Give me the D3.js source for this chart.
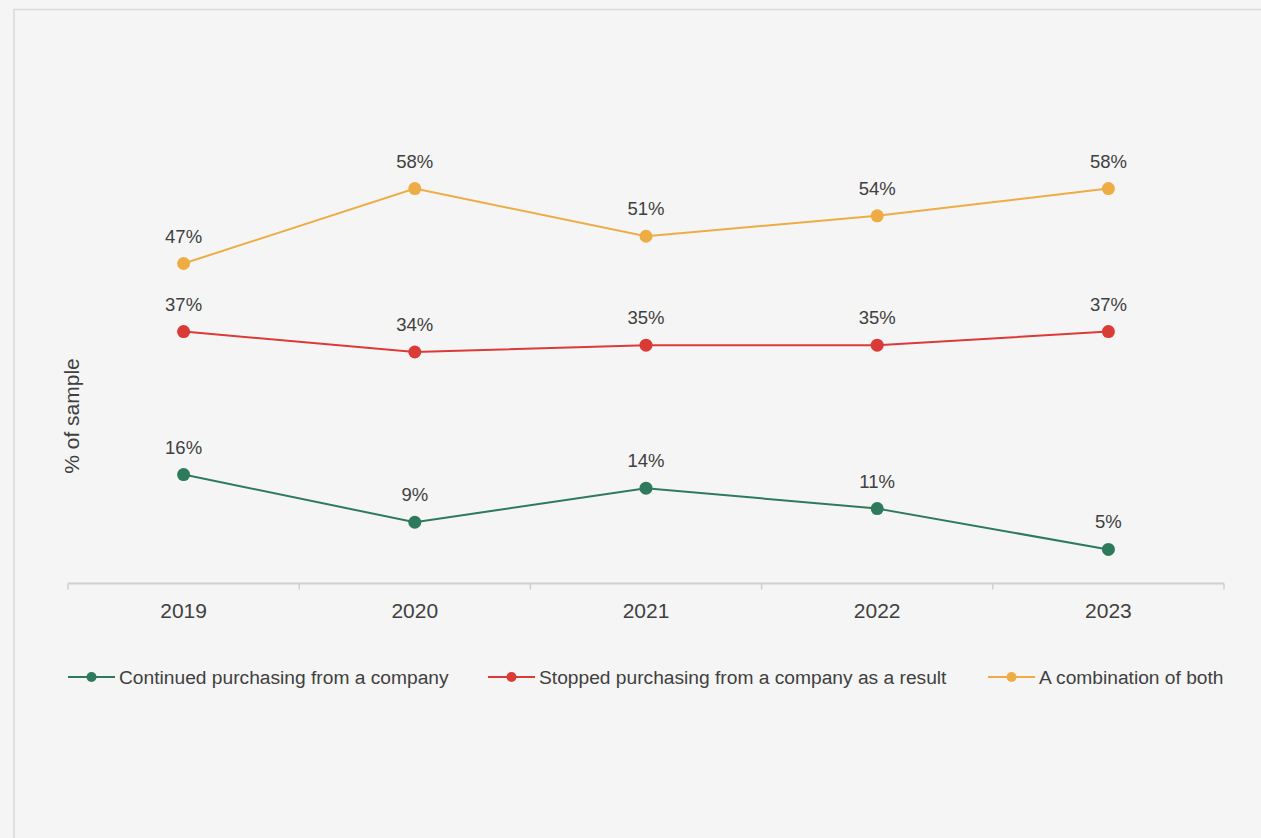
<!DOCTYPE html>
<html>
<head>
<meta charset="utf-8">
<script src="https://cdn.jsdelivr.net/npm/d3@7"></script>
<style>
  html, body { margin: 0; padding: 0; background: #f5f5f5; }
  svg { display: block; font-family: "Liberation Sans", Arial, Helvetica, sans-serif; }
</style>
</head>
<body>
<svg id="chart" width="1261" height="838"></svg>
<script>
// Survey years on the x axis
const years = ["2019", "2020", "2021", "2022", "2023"];

// Share of respondents (%) per outcome
const continuedValues = [16, 9, 14, 11, 5];
const stoppedValues = [37, 34, 35, 35, 37];
const combinationValues = [47, 58, 51, 54, 58];

const seriesNames = [
  "Continued purchasing from a company",
  "Stopped purchasing from a company as a result",
  "A combination of both"
];
const seriesColors = ["#2e7a5c", "#db3b36", "#eeac45"];
const yAxisTitle = "% of sample";

const series = [continuedValues, stoppedValues, combinationValues].map((vals, i) => ({
  name: seriesNames[i],
  color: seriesColors[i],
  points: vals.map((v, j) => ({ year: years[j], value: v }))
}));

const svg = d3.select("#chart");
const W = 1261, H = 838;
const textColor = "#404040";

svg.append("rect").attr("width", W).attr("height", H).attr("fill", "#f5f5f5");

// Panel frame (top and left edges)
svg.append("path")
  .attr("d", `M14,${H} V9.5 H${W}`)
  .attr("fill", "none")
  .attr("stroke", "#d9d9d9")
  .attr("stroke-width", 1.5);

const plot = { left: 68, right: 1224, bottom: 583.5 };

const x = d3.scaleBand().domain(years).range([plot.left, plot.right]).padding(0);
const y = d3.scaleLinear().domain([0, 60]).range([plot.bottom, 175]);
const cx = d => x(d) + x.bandwidth() / 2;

// Category axis: baseline with ticks on band boundaries
const axisG = svg.append("g").attr("transform", `translate(0,${plot.bottom})`);
axisG.append("line")
  .attr("x1", plot.left).attr("x2", plot.right)
  .attr("stroke", "#cfcfcf").attr("stroke-width", 2);
const boundaries = years.map(d => x(d)).concat([x(years[years.length - 1]) + x.bandwidth()]);
axisG.selectAll("line.tick")
  .data(boundaries)
  .join("line")
  .attr("class", "tick")
  .attr("x1", d => d).attr("x2", d => d)
  .attr("y1", 0).attr("y2", 6)
  .attr("stroke", "#cfcfcf").attr("stroke-width", 1.5);
axisG.selectAll("text.year")
  .data(years)
  .join("text")
  .attr("class", "year")
  .attr("x", d => cx(d))
  .attr("y", 34)
  .attr("text-anchor", "middle")
  .attr("font-size", 21)
  .attr("fill", textColor)
  .text(d => d);

// Y axis title
svg.append("text")
  .attr("transform", `translate(79,416) rotate(-90)`)
  .attr("text-anchor", "middle")
  .attr("font-size", 21)
  .attr("fill", textColor)
  .text(yAxisTitle);

const line = d3.line().x(d => cx(d.year)).y(d => y(d.value));

const sg = svg.selectAll("g.series")
  .data(series)
  .join("g")
  .attr("class", "series");

sg.append("path")
  .attr("d", d => line(d.points))
  .attr("fill", "none")
  .attr("stroke", d => d.color)
  .attr("stroke-width", 2);

sg.selectAll("circle")
  .data(d => d.points.map(p => ({ ...p, color: d.color })))
  .join("circle")
  .attr("cx", d => cx(d.year))
  .attr("cy", d => y(d.value))
  .attr("r", 6.5)
  .attr("fill", d => d.color);

sg.selectAll("text.val")
  .data(d => d.points)
  .join("text")
  .attr("class", "val")
  .attr("x", d => cx(d.year))
  .attr("y", d => y(d.value) - 21)
  .attr("text-anchor", "middle")
  .attr("font-size", 18.5)
  .attr("fill", textColor)
  .text(d => d.value + "%");

// Legend
const legendX = [68, 488, 988];
const legendY = 677;
const lg = svg.selectAll("g.legend")
  .data(series)
  .join("g")
  .attr("class", "legend")
  .attr("transform", (d, i) => `translate(${legendX[i]},${legendY})`);
lg.append("line")
  .attr("x1", 0).attr("x2", 47)
  .attr("stroke", d => d.color).attr("stroke-width", 2);
lg.append("circle")
  .attr("cx", 23.5).attr("r", 5)
  .attr("fill", d => d.color);
lg.append("text")
  .attr("x", 51)
  .attr("y", 6.5)
  .attr("font-size", 19.2)
  .attr("fill", textColor)
  .text(d => d.name);
</script>
</body>
</html>
